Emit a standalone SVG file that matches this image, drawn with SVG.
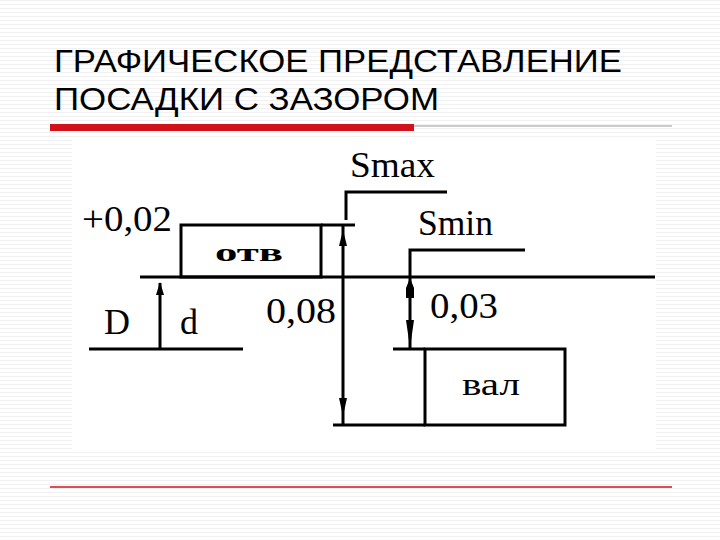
<svg xmlns="http://www.w3.org/2000/svg" width="720" height="540" viewBox="0 0 720 540">
<defs>
<pattern id="bg" width="4" height="4" patternUnits="userSpaceOnUse"><rect width="4" height="4" fill="#fff"/><rect width="4" height="1" fill="#f1f1f1"/></pattern>
<style>
.l{stroke:#000;stroke-width:3;fill:none}
.t{font-family:"Liberation Serif",serif;fill:#000}
.h{font-family:"Liberation Sans",sans-serif;font-size:32px;fill:#000}
</style>
</defs>
<rect width="720" height="540" fill="url(#bg)"/>
<rect x="72" y="140" width="584" height="312" fill="#fff"/>
<g id="title">
<text class="h" x="54" y="72" textLength="568" lengthAdjust="spacingAndGlyphs">ГРАФИЧЕСКОЕ ПРЕДСТАВЛЕНИЕ</text>
<text class="h" x="54" y="110" textLength="385" lengthAdjust="spacingAndGlyphs">ПОСАДКИ С ЗАЗОРОМ</text>
<rect x="50" y="124" width="364" height="7" fill="#d2121a"/>
<line x1="414" y1="126" x2="672" y2="126" stroke="#999" stroke-width="1"/>
<line x1="50" y1="487" x2="672" y2="487" stroke="#d2121a" stroke-width="1.5"/>
</g>
<g id="otv"><rect class="l" x="181" y="225" width="140" height="52"/><text class="t" x="215" y="261" font-size="26" font-weight="bold" textLength="68" lengthAdjust="spacingAndGlyphs">отв</text></g>
<g id="val"><rect class="l" x="425" y="349" width="140" height="76"/><text class="t" x="462" y="395" font-size="32" textLength="58" lengthAdjust="spacingAndGlyphs">вал</text></g>
<g id="connectors">
<path class="l" d="M140 277H655M321 225H355M89 349H243M160 283V349M346 220V192H447M343 225V425M333 425H425M410 277V250H525M410 277V349M393 349H425"/>
<path d="M156 295L160 282L164 295Z M339 246L343 230L347 246Z M339 398L343 416L347 398Z M406 288L410 278L414 288V298H406Z M406 320L410 348L414 320Z"/>
</g>
<g id="labels">
<text class="t" x="82" y="231" font-size="36" textLength="90" lengthAdjust="spacingAndGlyphs">+0,02</text>
<text class="t" x="104" y="334" font-size="36">D</text>
<text class="t" x="180" y="334" font-size="36">d</text>
<text class="t" x="266" y="323" font-size="36" textLength="70" lengthAdjust="spacingAndGlyphs">0,08</text>
<text class="t" x="430" y="318" font-size="36" textLength="68" lengthAdjust="spacingAndGlyphs">0,03</text>
<text class="t" x="350" y="177" font-size="36" textLength="85" lengthAdjust="spacingAndGlyphs">Smax</text>
<text class="t" x="418" y="235" font-size="36" textLength="75" lengthAdjust="spacingAndGlyphs">Smin</text>
</g>
</svg>
